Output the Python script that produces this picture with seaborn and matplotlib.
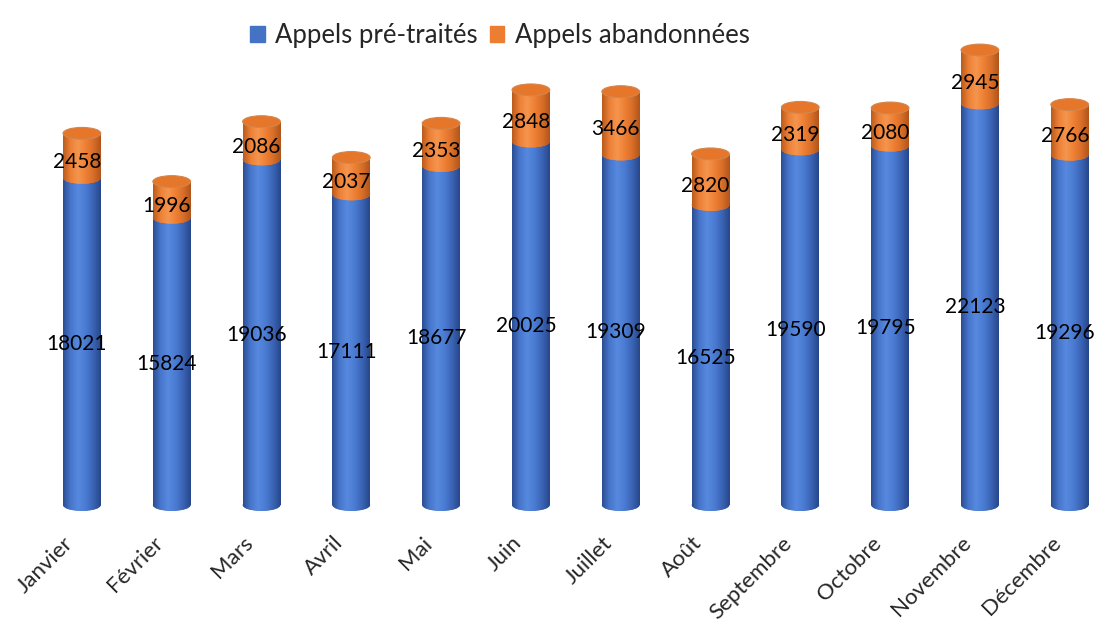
import numpy as np
import pandas as pd
import matplotlib.pyplot as plt
import matplotlib.transforms as mtransforms
import seaborn as sns
from matplotlib.colors import LinearSegmentedColormap
from matplotlib.patches import Ellipse, Patch, Rectangle

mois = ['Janvier', 'Février', 'Mars', 'Avril', 'Mai', 'Juin', 'Juillet', 'Août',
        'Septembre', 'Octobre', 'Novembre', 'Décembre']
pre_traites = [18021, 15824, 19036, 17111, 18677, 20025, 19309, 16525, 19590, 19795, 22123, 19296]
abandonnees = [2458, 1996, 2086, 2037, 2353, 2848, 3466, 2820, 2319, 2080, 2945, 2766]

bleu = '#4472C4'
orange = '#ED7D31'

df = pd.DataFrame({'mois': mois, 'pre': pre_traites, 'aband': abandonnees})
df['total'] = df['pre'] + df['aband']

sns.set_theme(style='white')
plt.rcParams['font.family'] = ['Lato', 'DejaVu Sans']

fig = plt.figure(figsize=(10.96, 6.27), dpi=100)
# axe : y=0 a 505 px du haut, 18.15 px pour 1000 appels
y_bas = -700
ax = fig.add_axes([37 / 1096, (122 - 700 * 0.01815) / 627, 1059 / 1096, (465 + 700 * 0.01815) / 627])

largeur = 0.42
# barres bleues via seaborn, la partie orange est posee dessus
sns.barplot(data=df, x='mois', y='pre', color=bleu, width=largeur, saturation=1, ax=ax, zorder=2)
barres_bleues = list(ax.patches)

# degrade pour l'effet cylindre
cmap_bleu = LinearSegmentedColormap.from_list('b', ['#2B4D90', '#4676CC', '#5789DF', '#4A7BD2', '#3A64B4', '#27468A'])
cmap_orange = LinearSegmentedColormap.from_list('o', ['#B85A1C', '#EE8036', '#F5954E', '#EE8034', '#D86E28', '#B0541A'])
grad = np.linspace(0, 1, 256).reshape(1, -1)

h_ell = 650  # hauteur des ellipses en unites de donnees


def ombrer(patch, cmap, x0, x1, y0, y1, z):
    im = ax.imshow(grad, cmap=cmap, aspect='auto', extent=(x0, x1, y0, y1),
                   zorder=z, interpolation='bicubic')
    im.set_clip_path(patch)


for i, pb in enumerate(barres_bleues):
    x0, w = pb.get_x(), pb.get_width()
    xc = x0 + w / 2
    pre, tot = df['pre'][i], df['total'][i]
    pb.set_linewidth(0)

    # fond arrondi du cylindre
    e_bas = Ellipse((xc, 0), w, h_ell, color=bleu, lw=0, zorder=2)
    ax.add_patch(e_bas)
    ombrer(e_bas, cmap_bleu, x0, x0 + w, -h_ell, h_ell, 2.1)
    ombrer(pb, cmap_bleu, x0, x0 + w, 0, pre, 2.2)

    # arc avant de la frontiere bleu / orange
    front = Ellipse((xc, pre), w, h_ell, color=orange, lw=0, zorder=3)
    ax.add_patch(front)
    ombrer(front, cmap_orange, x0, x0 + w, pre - h_ell, pre + h_ell, 3.1)

    # partie orange
    r = Rectangle((x0, pre), w, tot - pre, color=orange, lw=0, zorder=4)
    ax.add_patch(r)
    ombrer(r, cmap_orange, x0, x0 + w, pre, tot, 4.1)

    # couvercle
    cap = Ellipse((xc, tot), w, h_ell, facecolor='#E5762A', edgecolor='#D3864E', lw=0.8, zorder=5)
    ax.add_patch(cap)

for i in range(len(mois)):
    ax.text(i - 0.055, df['pre'][i] / 2 - 150, str(df['pre'][i]), ha='center', va='center',
            fontsize=15, color='black', zorder=10)
    ax.text(i - 0.055, df['pre'][i] + df['aband'][i] / 2 - 350, str(df['aband'][i]), ha='center', va='center',
            fontsize=15, color='black', zorder=10)

ax.set_xlim(-0.5, -0.5 + 1059 / 89.8)
ax.set_ylim(y_bas, 25620)
ax.set_xlabel('')
ax.set_ylabel('')
ax.set_yticks([])
sns.despine(ax=ax, left=True, bottom=True)
ax.tick_params(axis='x', length=0, pad=11)
ax.set_xticks(range(len(mois)))
ax.set_xticklabels(mois, rotation=45, ha='right', rotation_mode='anchor', fontsize=16)
decal = mtransforms.ScaledTranslation(-0.19, 0, fig.dpi_scale_trans)
for lab in ax.get_xticklabels():
    lab.set_transform(lab.get_transform() + decal)

handles = [Patch(color=bleu, label='Appels pré-traités'), Patch(color=orange, label='Appels abandonnées')]
fig.legend(handles=handles, loc='upper center', bbox_to_anchor=(500 / 1096, 1.0), ncol=2,
           frameon=False, fontsize=18.5, handlelength=0.55, handleheight=0.55, handletextpad=0.4,
           columnspacing=0.5)

fig.savefig('out.png', dpi=100)
